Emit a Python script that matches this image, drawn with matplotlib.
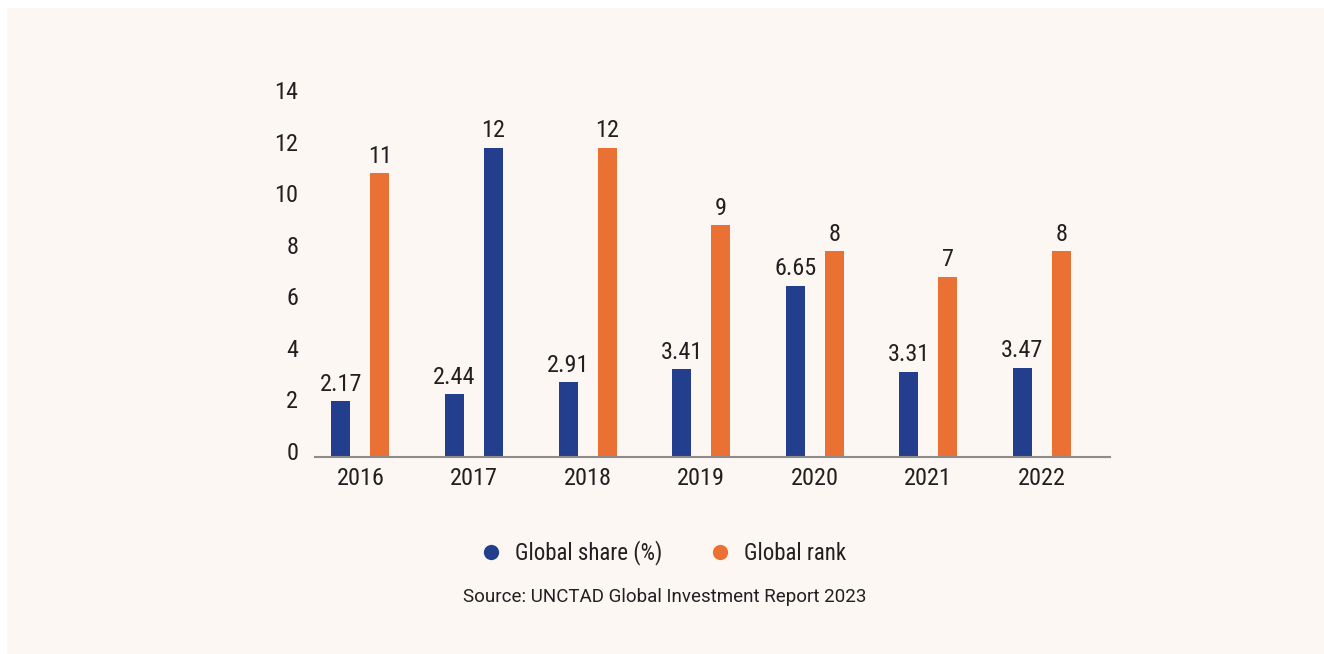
import matplotlib.pyplot as plt
import matplotlib.patches as mpatches
import matplotlib.transforms as mtransforms
from matplotlib.lines import Line2D
import numpy as np

years = ["2016", "2017", "2018", "2019", "2020", "2021", "2022"]
global_share = [2.17, 2.44, 2.91, 3.41, 6.65, 3.31, 3.47]
global_rank = [11, 12, 12, 9, 8, 7, 8]
share_labels = ["2.17", "2.44", "2.91", "3.41", "6.65", "3.31", "3.47"]
rank_labels = ["11", "12", "12", "9", "8", "7", "8"]

BLUE = "#233E8C"
ORANGE = "#EA7133"
BG = "#FCF7F3"
TXT = "#231F20"

plt.rcParams["font.family"] = ["Roboto", "DejaVu Sans"]
narrow = ["Roboto Condensed", "Barlow Semi Condensed", "DejaVu Sans"]

fig = plt.figure(figsize=(13.24, 6.54), dpi=100)
fig.patch.set_facecolor("white")
fig.patches.append(mpatches.Rectangle((7 / 1324, 0), 1 - 7 / 1324, 1 - 8 / 654,
                                      transform=fig.transFigure, facecolor=BG,
                                      edgecolor="none", zorder=-10))

ax = fig.add_axes([315 / 1324, 1 - 457 / 654, 795 / 1324, 361 / 654])
ax.set_facecolor("none")

x = np.arange(len(years))
w = 0.167
off = 0.172
# the 2017 rank bar is printed in the share colour
rank_colors = [ORANGE, BLUE, ORANGE, ORANGE, ORANGE, ORANGE, ORANGE]

ax.bar(x - off, global_share, w, color=BLUE)
ax.bar(x + off, global_rank, w, color=rank_colors)

for xi, v, s in zip(x, global_share, share_labels):
    ax.text(xi - off, v + 0.2, s, ha="center", va="bottom", fontsize=17.5,
            family=narrow, color=TXT)
for xi, v, s in zip(x, global_rank, rank_labels):
    ax.text(xi + off, v + 0.2, s, ha="center", va="bottom", fontsize=17.5,
            family=narrow, color=TXT)

ax.set_xlim(-0.4, 6.6)
ax.set_ylim(0, 14)
ax.set_yticks(range(0, 15, 2))
ax.set_xticks(x)
ax.set_xticklabels(years)
for lab in ax.get_xticklabels() + ax.get_yticklabels():
    lab.set_family(narrow)
    lab.set_fontsize(17.5)
    lab.set_color(TXT)
ax.tick_params(axis="both", length=0)
ax.tick_params(axis="y", pad=12)
ax.tick_params(axis="x", pad=7)

# y labels sit a little above their gridline positions
lift = mtransforms.ScaledTranslation(0, 6 / 100, fig.dpi_scale_trans)
for lab in ax.get_yticklabels():
    lab.set_transform(lab.get_transform() + lift)

for side in ["top", "right", "left"]:
    ax.spines[side].set_visible(False)
ax.spines["bottom"].set_color("#8C8C8C")
ax.spines["bottom"].set_linewidth(1.5)

handles = [
    Line2D([], [], marker="o", linestyle="none", markersize=11,
           markerfacecolor=BLUE, markeredgecolor="none", label="Global share (%)"),
    Line2D([], [], marker="o", linestyle="none", markersize=11,
           markerfacecolor=ORANGE, markeredgecolor="none", label="Global rank"),
]
leg = fig.legend(handles=handles, loc="center", bbox_to_anchor=(663 / 1324, 1 - 553 / 654),
                 ncol=2, frameon=False, handlelength=1.0, handletextpad=0.55,
                 columnspacing=2.0, prop={"family": narrow, "size": 16.5})
for t in leg.get_texts():
    t.set_color(TXT)

fig.text(665 / 1324, 1 - 597 / 654, "Source: UNCTAD Global Investment Report 2023",
         ha="center", va="center", fontsize=13.5, color=TXT)

fig.savefig("out.png", dpi=100, facecolor=fig.get_facecolor())
